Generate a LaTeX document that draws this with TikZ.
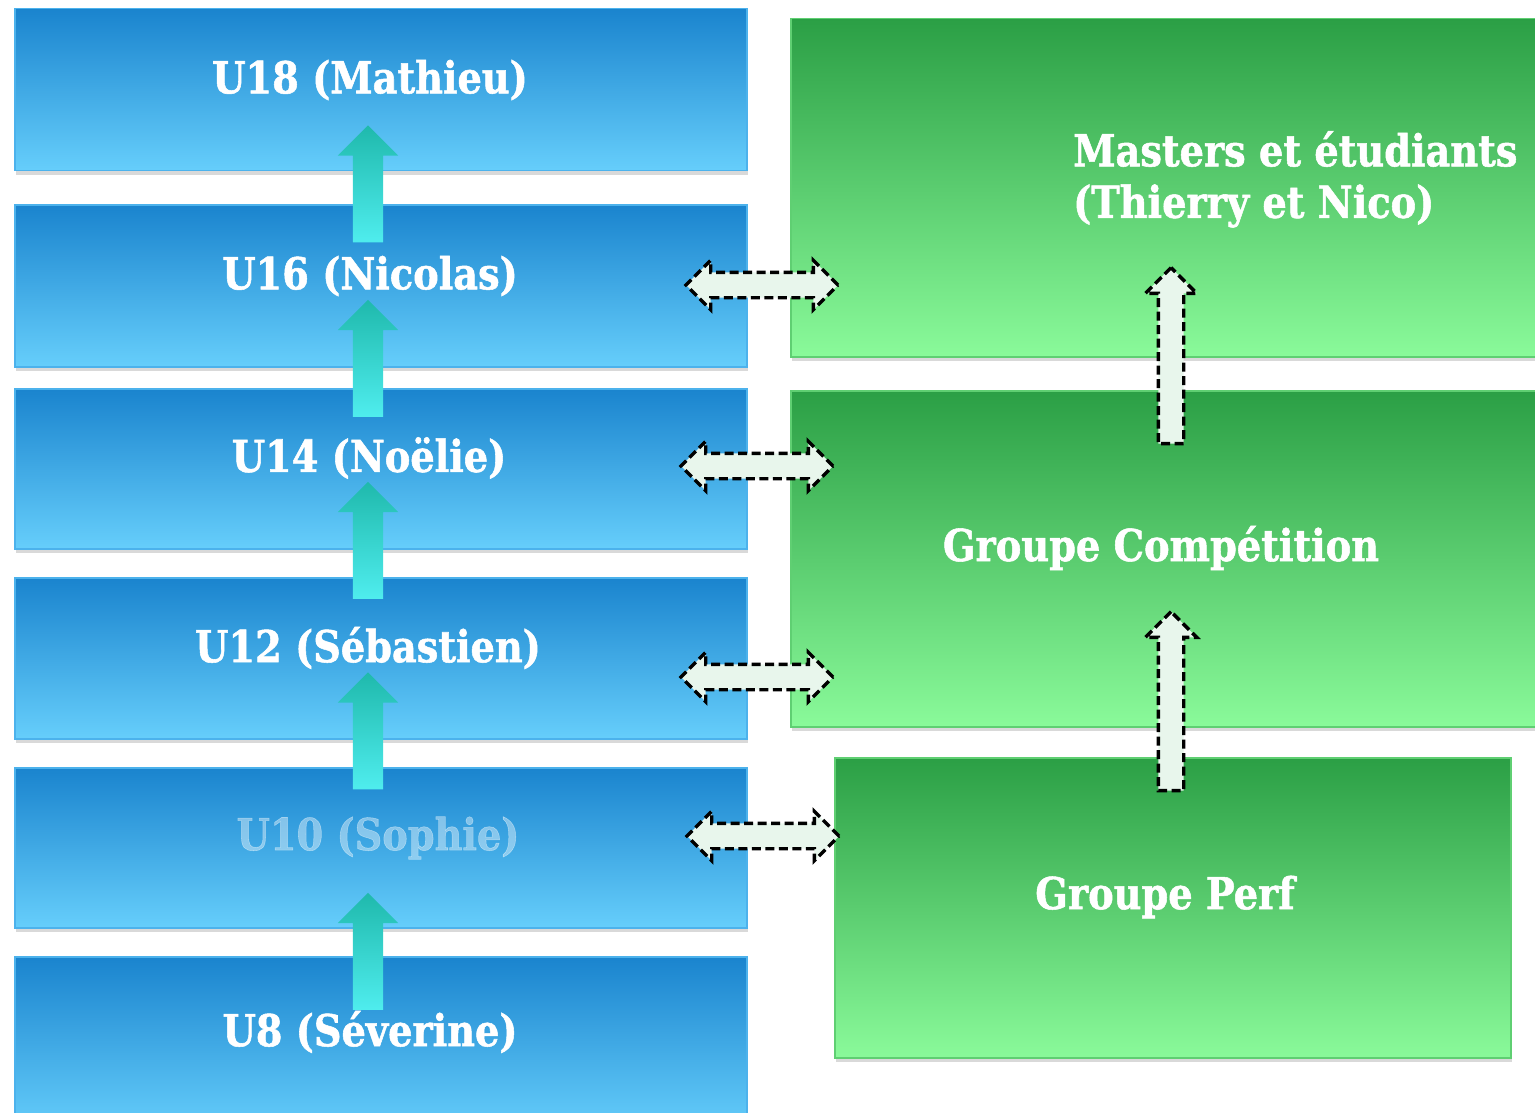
\documentclass[tikz,border=0pt]{standalone}
\usepackage{fontspec}
\setmainfont{DejaVu Serif}[FakeStretch=0.87, BoldFeatures={FakeBold=1.2}]
\usetikzlibrary{shapes.arrows,shadows,positioning}

\definecolor{blueTop}{HTML}{1A84CE}
\definecolor{blueBot}{HTML}{66CEFB}
\definecolor{blueEdge}{HTML}{4CB2EC}
\definecolor{greenTop}{HTML}{2B9F45}
\definecolor{greenBot}{HTML}{8AFA9A}
\definecolor{greenEdge}{HTML}{5FCF72}
\definecolor{tealTop}{HTML}{1FB9AC}
\definecolor{tealBot}{HTML}{4FEDEE}
\definecolor{arrowFill}{HTML}{E8F6EC}

\tikzset{
  bluebox/.style={rectangle, anchor=north west, minimum width=732pt,
    draw=blueEdge, line width=1.5pt, top color=blueTop, bottom color=blueBot,
    drop shadow={shadow xshift=1pt, shadow yshift=-4pt, opacity=0.3}},
  greenbox/.style={rectangle, anchor=north west,
    draw=greenEdge, line width=1.5pt, top color=greenTop, bottom color=greenBot,
    drop shadow={shadow xshift=1pt, shadow yshift=-4pt, opacity=0.3}},
  boxtext/.style={text=white, font=\bfseries\fontsize{44}{58}\selectfont, inner sep=0pt},
  uparrow/.style={single arrow, rotate=90, inner xsep=0pt, inner ysep=15pt,
    single arrow head extend=15pt, minimum width=60pt, minimum height=117pt,
    top color=tealTop, bottom color=tealBot},
  linkarrow/.style={double arrow, inner xsep=0pt, inner ysep=11pt,
    double arrow head extend=12pt, minimum width=46pt, minimum height=152pt,
    fill=arrowFill, draw=black, line width=3.4pt, dash pattern=on 9pt off 4.5pt},
  steparrow/.style={single arrow, rotate=90, inner xsep=0pt, inner ysep=11pt,
    single arrow head extend=13pt, minimum width=48pt,
    fill=arrowFill, draw=black, line width=3.4pt, dash pattern=on 9pt off 4.5pt}
}

\begin{document}
\begin{tikzpicture}[x=1pt,y=-1pt]
  % page frame
  \useasboundingbox (0,0) rectangle (1535,1113);
  % age groups, left column
  \node[bluebox, minimum height=162pt] (u18) at (14,8) {};
  \node[bluebox, minimum height=162pt] (u16) at (14,204) {};
  \node[bluebox, minimum height=160pt] (u14) at (14,388) {};
  \node[bluebox, minimum height=161pt] (u12) at (14,577) {};
  \node[bluebox, minimum height=160pt] (u10) at (14,767) {};
  \node[bluebox, minimum height=175pt] (u8) at (14,956) {};
  % groups, right column
  \node[greenbox, minimum width=770pt, minimum height=338pt] (masters) at (790,18) {};
  \node[greenbox, minimum width=770pt, minimum height=336pt] (compet) at (790,390) {};
  \node[greenbox, minimum width=676pt, minimum height=300pt] (perf) at (834,757) {};
  % going up one age group
  \node[uparrow] (up18) at (368,191.5) {};
  \node[uparrow] (up16) at (368,366) {};
  \node[uparrow] (up14) at (368,548) {};
  \node[uparrow] (up12) at (368,738.5) {};
  \node[uparrow] (up10) at (368,959) {};
  % links between the columns
  \node[linkarrow] (link16) at (762,285) {};
  \node[linkarrow] (link14) at (757,466) {};
  \node[linkarrow] (link12) at (757,677) {};
  \node[linkarrow] (link10) at (763,836) {};
  % going up one group
  \node[steparrow, minimum height=176pt] (upmasters) at (1171,362) {};
  \node[steparrow, minimum height=179pt] (upcompet) at (1171,707.5) {};
  % labels
  \node[boxtext] (t18) at (370,80) {U18 (Mathieu)};
  \node[boxtext] (t16) at (370,276) {U16 (Nicolas)};
  \node[boxtext] (t14) at (369,458) {U14 (Noëlie)};
  \node[boxtext] (t12) at (368,648) {U12 (Sébastien)};
  \node[boxtext, text opacity=0.4] (t10) at (378,838) {U10 (Sophie)};
  \node[boxtext] (t8) at (370,1032) {U8 (Séverine)};
  \node[boxtext, anchor=west] (tmasters) at (1073,149) {Masters et étudiants};
  \node[boxtext, anchor=west] (tcoachs) at (1073,206) {(Thierry et Nico)};
  \node[boxtext] (tcompet) at (1161,548) {Groupe Compétition};
  \node[boxtext] (tperf) at (1165,897) {Groupe Perf};
\end{tikzpicture}
\end{document}
